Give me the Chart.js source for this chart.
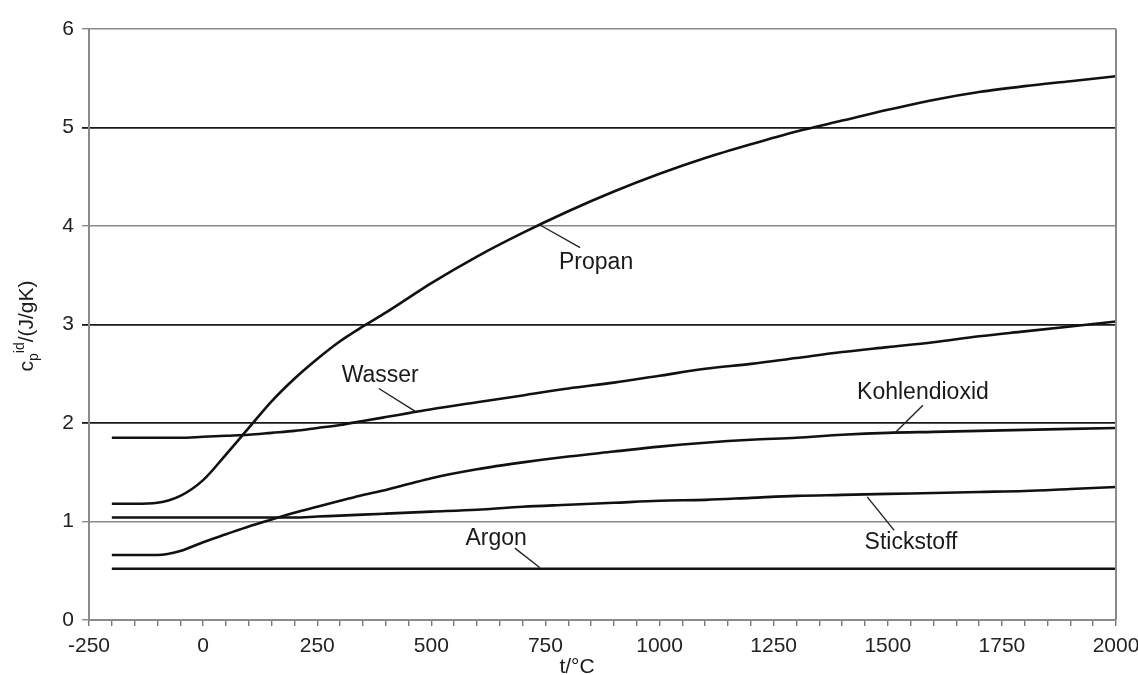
<!DOCTYPE html>
<html>
<head>
<meta charset="utf-8">
<script src="https://cdn.jsdelivr.net/npm/chart.js@4.4.1/dist/chart.umd.min.js"></script>
<style>
  html, body { margin: 0; padding: 0; background: #fff; }
  #wrap { width: 1138px; height: 675px; }
</style>
</head>
<body>
<div id="wrap"><canvas id="cpChart" width="1138" height="675"></canvas></div>
<script>
// temperatures in degC, shared by all curves
const temps = [-200, -150, -100, -50, 0, 50, 100, 150, 200, 250, 300, 350, 400, 450, 500,
               600, 700, 800, 900, 1000, 1100, 1200, 1300, 1400, 1500, 1600, 1700, 1800, 1900, 2000];

const propan = [1.18, 1.18, 1.19, 1.26, 1.42, 1.68, 1.95, 2.22, 2.45, 2.65, 2.83, 2.98, 3.12, 3.27, 3.42,
                3.69, 3.93, 4.15, 4.35, 4.53, 4.69, 4.83, 4.96, 5.07, 5.18, 5.28, 5.36, 5.42, 5.47, 5.52];
const wasser = [1.85, 1.85, 1.85, 1.85, 1.86, 1.87, 1.88, 1.90, 1.92, 1.95, 1.98, 2.02, 2.06, 2.10, 2.14,
                2.21, 2.28, 2.35, 2.41, 2.48, 2.55, 2.60, 2.66, 2.72, 2.77, 2.82, 2.88, 2.93, 2.98, 3.03];
const kohlendioxid = [0.66, 0.66, 0.66, 0.70, 0.79, 0.87, 0.95, 1.02, 1.09, 1.15, 1.21, 1.27, 1.32, 1.38, 1.44,
                      1.53, 1.60, 1.66, 1.71, 1.76, 1.80, 1.83, 1.85, 1.88, 1.90, 1.91, 1.92, 1.93, 1.94, 1.95];
const stickstoff = [1.04, 1.04, 1.04, 1.04, 1.04, 1.04, 1.04, 1.04, 1.04, 1.05, 1.06, 1.07, 1.08, 1.09, 1.10,
                    1.12, 1.15, 1.17, 1.19, 1.21, 1.22, 1.24, 1.26, 1.27, 1.28, 1.29, 1.30, 1.31, 1.33, 1.35];
const argon = [0.52, 0.52, 0.52, 0.52, 0.52, 0.52, 0.52, 0.52, 0.52, 0.52, 0.52, 0.52, 0.52, 0.52, 0.52,
               0.52, 0.52, 0.52, 0.52, 0.52, 0.52, 0.52, 0.52, 0.52, 0.52, 0.52, 0.52, 0.52, 0.52, 0.52];

const seriesNames = ['Propan', 'Wasser', 'Kohlendioxid', 'Stickstoff', 'Argon'];
const seriesValues = [propan, wasser, kohlendioxid, stickstoff, argon];

const yTicks = [0, 1, 2, 3, 4, 5, 6];
const xLabelStep = 250;

// curve labels with leader lines, in data coordinates
const curveLabels = [
    { text: 'Propan',       at: [861, 3.63],  from: [826, 3.78],  to: [738, 4.01] },
    { text: 'Wasser',       at: [388, 2.48],  from: [385, 2.35],  to: [464, 2.12] },
    { text: 'Kohlendioxid', at: [1577, 2.31], from: [1577, 2.18], to: [1516, 1.90] },
    { text: 'Stickstoff',   at: [1551, 0.79], from: [1514, 0.91], to: [1455, 1.25] },
    { text: 'Argon',        at: [642, 0.83],  from: [683, 0.73],  to: [738, 0.53] }
];

const FONT = '"Liberation Sans", Arial, Helvetica, sans-serif';

const annotate = {
    id: 'annotate',
    afterDatasetsDraw(chart) {
        const { ctx, chartArea, scales } = chart;
        const xs = scales.x, ys = scales.y;
        ctx.save();
        // right frame line
        ctx.strokeStyle = '#8a8a8a';
        ctx.lineWidth = 2;
        ctx.beginPath();
        ctx.moveTo(chartArea.right, chartArea.top);
        ctx.lineTo(chartArea.right, chartArea.bottom);
        ctx.stroke();

        // curve labels
        ctx.strokeStyle = '#222';
        ctx.lineWidth = 1.4;
        ctx.fillStyle = '#1a1a1a';
        ctx.font = '23px ' + FONT;
        ctx.textAlign = 'center';
        ctx.textBaseline = 'middle';
        curveLabels.forEach(l => {
            ctx.beginPath();
            ctx.moveTo(xs.getPixelForValue(l.from[0]), ys.getPixelForValue(l.from[1]));
            ctx.lineTo(xs.getPixelForValue(l.to[0]), ys.getPixelForValue(l.to[1]));
            ctx.stroke();
            ctx.fillText(l.text, xs.getPixelForValue(l.at[0]), ys.getPixelForValue(l.at[1]));
        });

        // x axis title
        ctx.font = '21px ' + FONT;
        ctx.textBaseline = 'alphabetic';
        ctx.fillText('t/°C', 577, 673);

        // y axis title: c_p^id/(J/gK)
        ctx.translate(33, 326);
        ctx.rotate(-Math.PI / 2);
        const big = '21px ' + FONT, small = '14px ' + FONT;
        const parts = [
            { t: 'c', f: big, dy: 0 },
            { t: 'p', f: small, dy: 5 },
            { t: 'id', f: small, dy: -9 },
            { t: '/(J/gK)', f: big, dy: 0 }
        ];
        let w = 0;
        parts.forEach(p => { ctx.font = p.f; w += ctx.measureText(p.t).width; });
        let x = -w / 2;
        ctx.textAlign = 'left';
        parts.forEach(p => {
            ctx.font = p.f;
            ctx.fillText(p.t, x, p.dy);
            x += ctx.measureText(p.t).width;
        });
        ctx.restore();
    }
};

const ctx = document.getElementById('cpChart').getContext('2d');
const cpChart = new Chart(ctx, {
    type: 'line',
    data: {
        datasets: seriesNames.map((name, i) => ({
            label: name,
            data: temps.map((t, j) => ({ x: t, y: seriesValues[i][j] })),
            borderColor: '#111',
            borderWidth: 2.6,
            pointRadius: 0,
            fill: false,
            cubicInterpolationMode: 'monotone'
        }))
    },
    options: {
        responsive: false,
        animation: false,
        layout: { padding: { top: 29, right: 22, left: 0, bottom: 0 } },
        plugins: {
            legend: { display: false },
            tooltip: { enabled: false }
        },
        scales: {
            x: {
                type: 'linear',
                min: -250,
                max: 2000,
                afterFit(scale) {
                    scale.height = 55;
                    scale.paddingLeft = 0;
                    scale.paddingRight = 0;
                },
                ticks: {
                    stepSize: 50,
                    autoSkip: false,
                    maxRotation: 0,
                    padding: 8,
                    color: '#222',
                    font: { family: FONT, size: 21 },
                    callback: v => (v % xLabelStep === 0 ? String(v) : '')
                },
                grid: {
                    drawOnChartArea: false,
                    drawTicks: true,
                    tickLength: 6,
                    color: '#777',
                    lineWidth: 1.4
                },
                border: { color: '#8a8a8a', width: 2 }
            },
            y: {
                min: 0,
                max: 6,
                afterFit(scale) {
                    scale.width = 89;
                    scale.paddingTop = 0;
                    scale.paddingBottom = 0;
                },
                afterBuildTicks(scale) { scale.ticks = yTicks.map(v => ({ value: v })); },
                ticks: {
                    padding: 8,
                    color: '#222',
                    font: { family: FONT, size: 21 }
                },
                grid: {
                    tickLength: 7,
                    color: c => ([2, 3, 5].includes(c.tick && c.tick.value) ? '#1a1a1a' : '#8a8a8a'),
                    lineWidth: c => ([2, 3, 5].includes(c.tick && c.tick.value) ? 1.8 : 1.4)
                },
                border: { color: '#8a8a8a', width: 2 }
            }
        }
    },
    plugins: [annotate]
});
</script>
</body>
</html>
